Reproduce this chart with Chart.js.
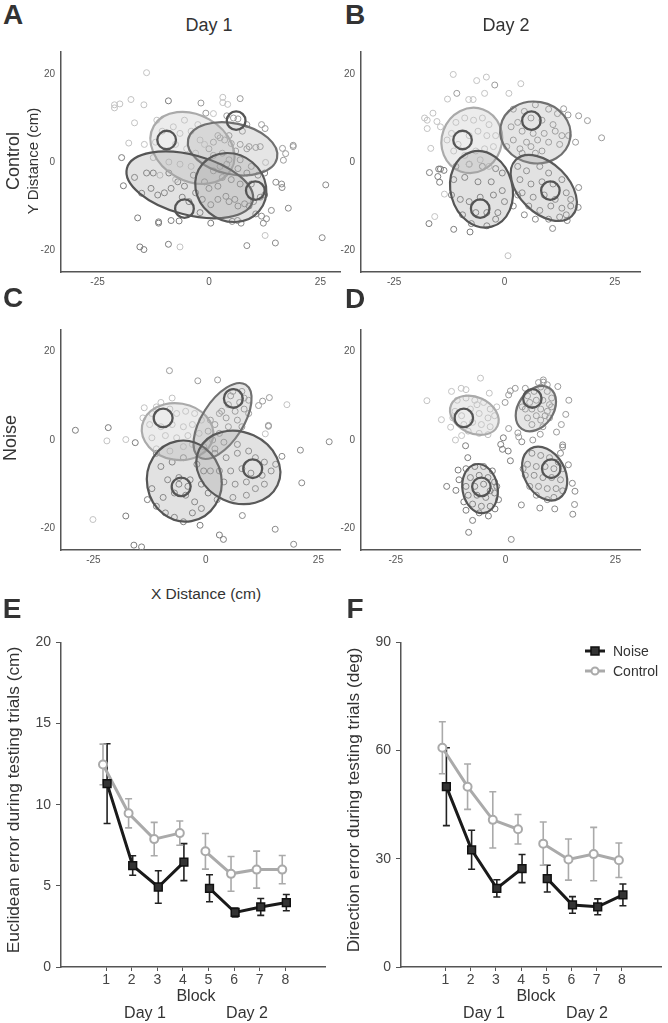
<!DOCTYPE html>
<html>
<head>
<meta charset="utf-8">
<script src="https://cdn.jsdelivr.net/npm/chart.js@4.4.1/dist/chart.umd.min.js"></script>
<style>
  body { margin: 0; background: #fff; }
  #fig { position: relative; width: 668px; height: 1023px; overflow: hidden;
         font-family: "Liberation Sans", Arial, sans-serif; color: #333; }
  canvas { position: absolute; }
  .lbl { position: absolute; white-space: nowrap; line-height: 1; transform: translate(-50%, -50%); }
</style>
</head>
<body>
<div id="fig">
  <canvas id="cA" width="345" height="250" style="left:0px;top:40px"></canvas>
  <canvas id="cB" width="340" height="250" style="left:305px;top:40px"></canvas>
  <canvas id="cC" width="345" height="250" style="left:0px;top:318px"></canvas>
  <canvas id="cD" width="340" height="250" style="left:305px;top:318px"></canvas>
  <canvas id="cE" width="335" height="360" style="left:0px;top:629px"></canvas>
  <canvas id="cF" width="328" height="360" style="left:340px;top:629px"></canvas>
</div>
<script>
// target positions (cm)
const targets = [[-9.5, 5], [6.1, 9.4], [10.4, -6.5], [-5.5, -10.6]];

// A: control, day 1 - endpoints per target
const A_t1 = [[-14,20.3],[-21.2,13],[-21.2,12.3],[-20,13.2],[-17.5,14.2],[-14.6,13],[-16.7,8.9],[-18,4.3],[-11.7,9.5],[-10.5,7],[-8,8],[-6.5,6.5],[-4,7],[-2.5,8.5],[-12,4.5],[-7.5,4],[-5,3],[-3,2],[-12.5,1],[-9,0],[-6.5,-0.5],[-4,-1],[-2,5],[-1,4],[-11,-3],[-7.5,-4],[-6.5,-19.3],[12.6,-16.7],[1,11],[3.1,14.7],[3.1,13.5],[4.2,13.1],[12.7,-0.1],[-14.5,4],[-5.5,9.5]];
const A_t2 = [[7,14.4],[-1.8,13.4],[-0.7,11.1],[5.5,10],[6.5,9.8],[4,10.5],[8.5,8.5],[11.8,8.5],[12.6,7.6],[7.5,7],[4.5,6],[2.5,5.5],[3.5,5],[1,4.5],[7,4],[9,3.5],[10.5,3.3],[11.5,3.5],[8.5,3],[6,2.5],[3,2],[1,1.5],[4.5,0.5],[7,0.5],[16.5,3.1],[17.2,1.9],[16.7,0.4],[18.9,3.8],[18.9,3.5],[9.5,-1],[2,6],[5,4.2],[0,3]];
const A_t3 = [[-19.6,1],[-19.2,-5.4],[-16.7,-3.5],[-15.1,-7.1],[-16,-12.7],[-15.5,-19.3],[-14.6,-19.9],[-11.3,-13.6],[-11.3,-13.9],[-9.1,-18.7],[-8.5,-13.3],[-6.7,-13.4],[-13,-6],[-11.5,-7.5],[-10,-7],[-8.5,-6],[-7,-4.5],[-5.5,-5.5],[-6,-8],[-4.5,-9],[-3,-7],[-1.5,-8.5],[-2,-11.5],[0.4,-13.9],[-12.5,-2.5],[-9,-2.5],[-1,-4.5],[-9.1,13.9],[-14,-2.5],[-3.5,-3]];
const A_t4 = [[8.5,-19],[14.9,-18.4],[17.8,-10.5],[25.4,-17.2],[26.2,-5.2],[15,-4.6],[16.3,-5],[16.4,-5.8],[11.8,-12.3],[12.9,-12.9],[12.2,-13.9],[10.5,-11.8],[6.4,-13.3],[7.2,-13.9],[5.2,-13.5],[0.4,-9.7],[2,-8.5],[3.8,-7.8],[4.5,-9],[5.8,-8.5],[6.5,-10],[8,-9.5],[9,-10],[10,-9],[11.5,-8],[12.5,-7.5],[9.5,-5],[7,-5],[5,-4],[3,-3.5],[1,-2],[2.5,-1],[4,-0.5],[6.5,-1.5],[8.5,-2.5],[11,-3],[12.5,-2.5],[14,-11],[2,-5.5],[0,-6]];
// ellipses: [cx, cy, semi-major, semi-minor, angle deg]
const A_ell = [[-3.7,3.2,10,7.5,-30],[5.3,3.0,10.2,5.8,-12],[-4.3,-5.2,14.6,6.8,-15],[4.9,-5.8,8.3,7.5,-40]];

// B: control, day 2
const B_t1 = [[-11.6,19.9],[-6.3,18.5],[-4.1,19.3],[-4.5,15.6],[-12.9,14.3],[-8.1,14.2],[-7.1,14.2],[1,15.6],[3.7,17.8],[-18.1,10],[-17.5,9.5],[-16.2,11.1],[-15.3,9.2],[-17.5,7.6],[-16.7,3.1],[-13.6,-7.3],[-15.8,-12.4],[0.8,-21.3],[-11,9],[-9,10],[-7,9.5],[-5,10],[-3.5,8.5],[-12,6.5],[-10.5,4],[-8,6],[-6,7],[-4,6],[-2,6],[-11.5,2.5],[-9,1.5],[-6.5,2.5],[-4.5,3],[-2.5,3.5],[-13,5],[-8,-0.5],[-5.5,0.5],[-3.5,-1],[-14.5,8]];
const B_t2 = [[-2.2,17.5],[16.1,4.5],[16.8,10.5],[18.8,9.4],[22,5.5],[13.4,12.1],[14.4,10.7],[2,12],[4.5,11.5],[7,13],[10,12],[12,11],[3,9],[6,10],[8.5,9.5],[11,8.5],[1.5,8],[4,7],[6.5,6.5],[9,6.5],[11.5,7],[13,6],[2,5],[5,4.5],[7.5,5],[10,4.5],[12.5,4],[3.5,3],[6,3.5],[8.5,2.5],[0.5,3.5],[4,2],[7,2],[-10.8,15.6],[14.5,6]];
const B_t3 = [[-17,-2.4],[-14.9,-1.6],[-14.5,-1.6],[-13.7,-1.9],[-15.1,-3.3],[-14.7,-4.6],[-17.1,-14],[-11.5,-15.3],[-7.8,-15.9],[-11,-1],[-8,-0.5],[-5,-1],[-2,-1.5],[-0.5,-2.5],[-11.5,-4],[-9,-3.5],[-6,-4.5],[-3,-4.5],[-12,-7.5],[-10,-8.5],[-8,-9],[-5.5,-8],[-2.5,-7.5],[-0.5,-6.5],[-9.5,-12],[-6.5,-11.5],[-4,-11.5],[-1.5,-11.5],[-7.5,-14],[-4,-14.5],[-2,-13],[0,-9]];
const B_t4 = [[10.9,-15.1],[14.2,-13.3],[16.7,-10.3],[16.8,-5.8],[3,-1],[5,-2],[8,-1],[10,-2.5],[3.5,-4],[6,-5],[8.5,-4.5],[11,-5],[13,-4],[4,-7],[6.5,-8],[9,-7.5],[11.5,-8.5],[14,-7],[15,-8.5],[5.5,-10],[8,-11],[10.5,-10],[13,-10.5],[15,-10],[7,-13],[10,-13],[12.5,-12.5],[14,-12],[2,-10],[3,-7.5],[4.5,-12]];
const B_ell = [[-7.4,4.9,7.5,6.8,70],[7.0,6.7,8,7,-10],[-5.2,-6.2,8.8,7,105],[8.9,-5.9,9,5.6,-45]];

// C: noise, day 1
const C_t1 = [[-22,-0.2],[-17.8,0.1],[-25.1,-18],[18,8],[13.2,1.4],[-7.5,9.5],[-13.7,7.3],[-12,6],[-11,7.5],[-8,7],[-6.5,6],[-4.5,6.5],[-2.5,6],[-1,4.5],[-12.5,3.5],[-10,3],[-7.5,3.5],[-5,3],[-3,3.5],[-12,0.5],[-9,1],[-6.5,0.5],[-4,1],[-1.5,1.5],[-11,-2],[-8,-2.5],[-5,-1.5],[-3,-1],[-14,5],[-10,8.5]];
const C_t2 = [[-8.1,15.7],[-1.8,13.4],[2.6,13.6],[13.9,3.1],[13.9,3.3],[14.1,9.6],[12.6,8.8],[11.7,7.8],[6,11],[8,11],[9.5,9],[7.5,8.5],[5,8],[3.5,6.5],[6.5,6.5],[8.5,7],[9.5,6],[4.5,5],[7,4.5],[2,3.5],[5,3],[8,3],[0.5,2],[3,1.5],[1.5,0],[4,-0.5],[-0.5,-1.5],[2,-2],[8.5,9.5],[5.5,10],[3,6],[1,4.5]];
const C_t3 = [[-29,2.2],[-21.7,2.8],[-15.7,-0.6],[-17.8,-17.2],[-16,-23.8],[-14.3,-24.2],[-1.3,-19.3],[3,-21.5],[3.9,-22.5],[-12,-11],[-13,-13.5],[-11,-15],[-9,-16.5],[-7,-17.5],[-5,-18.5],[-9.5,-13],[-7,-12],[-4.5,-12.5],[-2.5,-14],[-3,-16.5],[-1,-15.5],[-8.5,-9],[-6,-8.5],[-3.5,-9],[-1,-10],[0.5,-12],[-10,-6],[-7.5,-5],[-5,-4],[-2,-5.5],[-0.5,-7],[-11,-3],[-4,-10.5],[-6,-10]];
const C_t4 = [[8.1,-17.1],[15.4,-20.2],[19.5,-23.6],[21.3,-9.7],[21,-2.3],[27.4,-0.4],[16.9,-3.7],[2,-3],[4.5,-4],[7,-3],[9.5,-2.5],[11,-4],[13,-5],[3,-7],[5.5,-7],[8,-6.5],[10,-7.5],[12.5,-8],[14.5,-7],[4,-9.5],[6.5,-10],[9,-9.5],[11,-11],[13,-10],[6,-13],[9,-12.5],[1,-7],[7,-1],[15.5,-5.5],[2.5,-13.5]];
const C_ell = [[-6.3,1.9,8,6.4,-10],[3.7,4.3,9.7,4.6,58],[-4.8,-9.3,9.2,8.3,100],[7.2,-6.2,9.6,8,-25]];

// D: noise, day 2
const D_t1 = [[-17.9,8.9],[-14.6,4.6],[-5.7,14],[-12.3,11],[-10.1,11.7],[-9,11.4],[-3.7,10.6],[-12.5,2.9],[-11.4,0],[-11,9],[-9,9.5],[-7,9],[-5,8.5],[-3.5,7],[-11.5,6.5],[-10,5.5],[-8,7],[-6,6],[-4,5],[-2.5,5.5],[-12,5],[-9.5,3.5],[-7.5,4],[-5.5,3.5],[-3.5,3],[-8.5,2],[-6,1.5],[-4,1.2],[-10,1],[-6.5,8],[-2,7.5]];
const D_t2 = [[13.7,5.8],[14.4,9],[11.9,12.1],[12.7,3.5],[11.6,1.8],[8.6,13.6],[8.6,13.1],[2.2,11.7],[1.1,11.1],[0.7,10.2],[-0.1,8.5],[4.5,11.7],[0.7,2.6],[2.8,1.6],[3,0.7],[6.2,0],[7.9,1.3],[5,10],[6.5,11],[8,12],[9.5,11],[10.5,9.5],[5.5,8.5],[7,9],[8.5,9],[10,8],[4.5,7],[6,7],[8,7],[9.5,6.5],[10.5,7.5],[5,5],[7,5.5],[8,4.5],[9,5.5],[6,3.5],[8.5,3],[9.5,12.5],[7.5,13],[3.8,7.5],[10,5]];
const D_t3 = [[-9.1,-1.3],[-8.6,-4],[-13.4,-10.5],[-11.3,-11.4],[-10.8,-6.8],[-10.6,-9],[-9,-15.9],[-7.5,-18.2],[-8.4,-20.9],[-3.9,-17.2],[-2.4,-15.6],[-1.6,-13.5],[-0.5,0.5],[-1.1,-1],[-0.7,-2.1],[0.6,-2.5],[1.1,-4.7],[-9,-6.5],[-7,-6],[-5,-6],[-3,-7],[-8,-8.5],[-6,-8],[-4,-8.5],[-2.5,-9.5],[-9,-10.5],[-7,-10.5],[-5,-10],[-3.5,-11.5],[-8.5,-12.5],[-6.5,-12.5],[-4.5,-13],[-2.5,-12],[-7.5,-14.5],[-5.5,-15],[-3.5,-15],[-9.5,-14],[-6,-16.5],[-2,-10.5]];
const D_t4 = [[1.3,-22.5],[3.6,-14.7],[7.8,-15.4],[11.2,-15.6],[15.3,-16.8],[15.7,-14.6],[15.8,-11.6],[15.2,-9.8],[14.3,-5.6],[13,-1.1],[13,-1.6],[3.7,-0.4],[6,-3],[8,-3.5],[10,-4],[12,-5],[5,-5.5],[7,-6],[9,-6],[11,-6.5],[13,-6.5],[4.5,-8],[6.5,-8],[8.5,-8.5],[10.5,-8.5],[12.5,-9],[5.5,-10.5],[7.5,-10.5],[9.5,-11],[11.5,-11],[13,-11.5],[7,-12.5],[9.5,-13.5],[11,-13],[4,-6.5],[12.5,-3]];
const D_ell = [[-7.1,5.6,5.8,4.1,-25],[6.9,7.1,5.6,4.0,55],[-5.8,-11,5.6,4.0,100],[8.9,-7.6,6.5,4.6,120]];

// E/F: errors per block (mean, sem)
const blocks = [1, 2, 3, 4, 5, 6, 7, 8];
const eucNoise = [11.3, 6.25, 4.93, 6.46, 4.85, 3.36, 3.7, 3.97];
const eucNoiseErr = [2.46, 0.6, 1.0, 1.14, 0.83, 0.27, 0.52, 0.5];
const eucCtrl = [12.48, 9.47, 7.88, 8.25, 7.13, 5.74, 6.0, 6.0];
const eucCtrlErr = [1.25, 0.9, 1.03, 0.75, 1.1, 1.07, 1.14, 0.87];
const dirNoise = [50, 32.5, 21.8, 27.3, 24.5, 17.2, 16.7, 20];
const dirNoiseErr = [10.8, 5.4, 2.4, 3.9, 3.7, 2.3, 2.2, 3];
const dirCtrl = [60.8, 50, 40.8, 38.2, 34.2, 29.8, 31.3, 29.6];
const dirCtrlErr = [7.2, 6.3, 7.8, 4.1, 6, 5.7, 7.4, 4.8];

const FONT = '"Liberation Sans", Arial, sans-serif';
const fig = document.getElementById('fig');

function label(text, x, y, size, opts = {}) {
  const d = document.createElement('div');
  d.className = 'lbl';
  d.textContent = text;
  d.style.left = x + 'px';
  d.style.top = y + 'px';
  d.style.fontSize = size + 'px';
  if (opts.bold) d.style.fontWeight = 'bold';
  if (opts.rot) d.style.transform = 'translate(-50%,-50%) rotate(-90deg)';
  fig.appendChild(d);
}

// ellipses and target circles drawn through the scales
const ellipsePlugin = {
  id: 'ellipses',
  afterDatasetsDraw(chart, args, opts) {
    const { ctx, scales: { x, y } } = chart;
    const sx = Math.abs(x.getPixelForValue(1) - x.getPixelForValue(0));
    const sy = Math.abs(y.getPixelForValue(1) - y.getPixelForValue(0));
    const path = (cx, cy, a, b, deg) => {
      ctx.save();
      ctx.translate(x.getPixelForValue(cx), y.getPixelForValue(cy));
      ctx.scale(sx, -sy);
      ctx.rotate(deg * Math.PI / 180);
      ctx.beginPath();
      ctx.ellipse(0, 0, a, b, 0, 0, Math.PI * 2);
      ctx.restore();
    };
    opts.ells.forEach((e, i) => {
      path(...e);
      ctx.fillStyle = opts.fills[i];
      ctx.fill();
      ctx.lineWidth = 2.2;
      ctx.strokeStyle = opts.strokes[i];
      ctx.stroke();
    });
    targets.forEach(t => {
      path(t[0], t[1], 2.1, 2.1, 0);
      ctx.lineWidth = 2.3;
      ctx.strokeStyle = '#555';
      ctx.stroke();
    });
  }
};

const pointColors = ['#c2c2c2', '#9a9a9a', '#7c7c7c', '#8a8a8a'];
const ellStrokes = ['#aaaaaa', '#707070', '#555555', '#5a5a5a'];
const ellFills = ['rgba(200,200,200,0.35)', 'rgba(170,170,170,0.3)', 'rgba(160,160,160,0.3)', 'rgba(160,160,160,0.3)'];

function scatterPanel(id, groups, ells, xr, yr, yw, padRight) {
  new Chart(document.getElementById(id), {
    type: 'scatter',
    data: {
      datasets: groups.map((g, i) => ({
        data: g.map(p => ({ x: p[0], y: p[1] })),
        pointStyle: 'circle',
        pointRadius: 3,
        pointBorderWidth: 1,
        pointBackgroundColor: 'rgba(0,0,0,0)',
        pointBorderColor: pointColors[i]
      }))
    },
    options: {
      responsive: false,
      animation: false,
      layout: { padding: { top: 10, right: padRight, left: 0, bottom: 0 } },
      plugins: {
        legend: { display: false }, tooltip: { enabled: false },
        ellipses: { ells, fills: ellFills, strokes: ellStrokes }
      },
      scales: {
        x: {
          type: 'linear', min: xr[0], max: xr[1],
          afterBuildTicks: s => { s.ticks = [-25, 0, 25].map(v => ({ value: v })); },
          afterFit: s => { s.height = 18; },
          grid: { display: false, drawTicks: false },
          border: { display: true, color: '#555', width: 1.5 },
          ticks: { color: '#555', font: { family: FONT, size: 10 }, padding: 4, maxRotation: 0 }
        },
        y: {
          type: 'linear', min: yr[0], max: yr[1],
          afterBuildTicks: s => { s.ticks = [-20, 0, 20].map(v => ({ value: v })); },
          afterFit: s => { s.width = yw; },
          grid: { display: false, drawTicks: false },
          border: { display: true, color: '#555', width: 1.5 },
          ticks: { color: '#555', font: { family: FONT, size: 10 }, padding: 6 }
        }
      }
    },
    plugins: [ellipsePlugin]
  });
}

scatterPanel('cA', [A_t1, A_t2, A_t3, A_t4], A_ell, [-33.2, 29.4], [-25, 25], 61, 5);
scatterPanel('cB', [B_t1, B_t2, B_t3, B_t4], B_ell, [-32.5, 30.7], [-25, 25], 56, 2);
scatterPanel('cC', [C_t1, C_t2, C_t3, C_t4], C_ell, [-32.2, 29.8], [-24.9, 24.9], 61, 5);
scatterPanel('cD', [D_t1, D_t2, D_t3, D_t4], D_ell, [-32.9, 30.6], [-24.9, 24.9], 56, 2);

// ---- line charts with error bars ----
function series(vals, errs, off) {
  const pts = [], e = [];
  blocks.forEach((b, i) => {
    pts.push({ x: b + off, y: vals[i] });
    e.push(errs[i]);
    if (b === 4) { pts.push({ x: 4.5, y: null }); e.push(null); }
  });
  return { pts, e };
}

const errorBarPlugin = {
  id: 'errbars',
  beforeDatasetsDraw(chart) {
    const { ctx, scales: { y } } = chart;
    chart.data.datasets.forEach((ds, di) => {
      const meta = chart.getDatasetMeta(di);
      ctx.save();
      ctx.strokeStyle = ds.errColor;
      ctx.lineWidth = 1.6;
      meta.data.forEach((pt, i) => {
        const v = ds.data[i].y, err = ds.errs[i];
        if (v == null || err == null) return;
        const y1 = y.getPixelForValue(v + err), y2 = y.getPixelForValue(v - err);
        ctx.beginPath();
        ctx.moveTo(pt.x, y1); ctx.lineTo(pt.x, y2);
        ctx.moveTo(pt.x - 3.5, y1); ctx.lineTo(pt.x + 3.5, y1);
        ctx.moveTo(pt.x - 3.5, y2); ctx.lineTo(pt.x + 3.5, y2);
        ctx.stroke();
      });
      ctx.restore();
    });
  }
};

const legendPlugin = {
  id: 'miniLegend',
  afterDraw(chart, args, opts) {
    if (!opts.show) return;
    const ctx = chart.ctx;
    const rows = [
      { text: 'Noise', y: 22, line: '#1a1a1a', kind: 'rect' },
      { text: 'Control', y: 42, line: '#aaaaaa', kind: 'circle' }
    ];
    ctx.save();
    rows.forEach(r => {
      ctx.strokeStyle = r.line; ctx.lineWidth = 3;
      ctx.beginPath(); ctx.moveTo(245, r.y); ctx.lineTo(265, r.y); ctx.stroke();
      if (r.kind === 'rect') {
        ctx.fillStyle = '#333'; ctx.strokeStyle = '#111'; ctx.lineWidth = 1.5;
        ctx.fillRect(251, r.y - 4, 8, 8); ctx.strokeRect(251, r.y - 4, 8, 8);
      } else {
        ctx.fillStyle = '#fff'; ctx.strokeStyle = '#aaa'; ctx.lineWidth = 2;
        ctx.beginPath(); ctx.arc(255, r.y, 3.5, 0, Math.PI * 2); ctx.fill(); ctx.stroke();
      }
      ctx.fillStyle = '#333'; ctx.font = '14px ' + FONT; ctx.textBaseline = 'middle';
      ctx.fillText(r.text, 273, r.y + 1);
    });
    ctx.restore();
  }
};

function linePanel(id, noise, noiseErr, ctrl, ctrlErr, yMax, yTicks, padRight, showLegend) {
  const n = series(noise, noiseErr, 0.04);
  const c = series(ctrl, ctrlErr, -0.12);
  new Chart(document.getElementById(id), {
    type: 'line',
    data: {
      datasets: [
        { label: 'Noise', data: n.pts, errs: n.e, errColor: '#222',
          borderColor: '#1a1a1a', borderWidth: 3, tension: 0, spanGaps: false,
          pointStyle: 'rect', pointRadius: 5.5, pointBackgroundColor: '#333',
          pointBorderColor: '#111', pointBorderWidth: 1.5 },
        { label: 'Control', data: c.pts, errs: c.e, errColor: '#aaa',
          borderColor: '#aaaaaa', borderWidth: 3, tension: 0, spanGaps: false,
          pointStyle: 'circle', pointRadius: 4, pointBackgroundColor: '#fff',
          pointBorderColor: '#aaaaaa', pointBorderWidth: 2 }
      ]
    },
    options: {
      responsive: false,
      animation: false,
      layout: { padding: { top: 10, right: padRight, left: 0, bottom: 0 } },
      plugins: { legend: { display: false }, tooltip: { enabled: false }, miniLegend: { show: showLegend } },
      scales: {
        x: {
          type: 'linear', min: -0.76, max: 9.55,
          afterBuildTicks: s => { s.ticks = blocks.map(v => ({ value: v })); },
          afterFit: s => { s.height = 22; },
          grid: { drawOnChartArea: false, tickLength: 4, color: '#555' },
          border: { display: true, color: '#555', width: 1.5 },
          ticks: { color: '#444', font: { family: FONT, size: 14 }, padding: 1, maxRotation: 0 }
        },
        y: {
          type: 'linear', min: 0, max: yMax,
          afterBuildTicks: s => { s.ticks = yTicks.map(v => ({ value: v })); },
          afterFit: s => { s.width = 61; },
          grid: { drawOnChartArea: false, tickLength: 5, color: '#555' },
          border: { display: true, color: '#555', width: 1.5 },
          ticks: { color: '#444', font: { family: FONT, size: 14 }, padding: 5 }
        }
      }
    },
    plugins: [errorBarPlugin, legendPlugin]
  });
}

linePanel('cE', eucNoise, eucNoiseErr, eucCtrl, eucCtrlErr, 20, [0, 5, 10, 15, 20], 10, false);
linePanel('cF', dirNoise, dirNoiseErr, dirCtrl, dirCtrlErr, 90, [0, 30, 60, 90], 3, true);

// ---- text ----
label('A', 13, 15, 28, { bold: true });
label('B', 355, 15, 28, { bold: true });
label('C', 13, 298, 28, { bold: true });
label('D', 355, 299, 28, { bold: true });
label('E', 12, 609, 28, { bold: true });
label('F', 355, 609, 28, { bold: true });
label('Day 1', 209, 25, 18);
label('Day 2', 506, 25, 18);
label('Control', 13, 161, 18, { rot: true });
label('Y Distance (cm)', 32, 161, 15, { rot: true });
label('Noise', 10, 438, 18, { rot: true });
label('X Distance (cm)', 206, 594, 15.5);
label('Euclidean error during testing trials (cm)', 14, 800, 17.3, { rot: true });
label('Direction error during testing trials (deg)', 354, 800, 17.3, { rot: true });
label('Block', 196, 996, 16);
label('Day 1', 145, 1013, 16);
label('Day 2', 247, 1013, 16);
label('Block', 536, 996, 16);
label('Day 1', 484, 1013, 16);
label('Day 2', 587, 1013, 16);
</script>
</body>
</html>
